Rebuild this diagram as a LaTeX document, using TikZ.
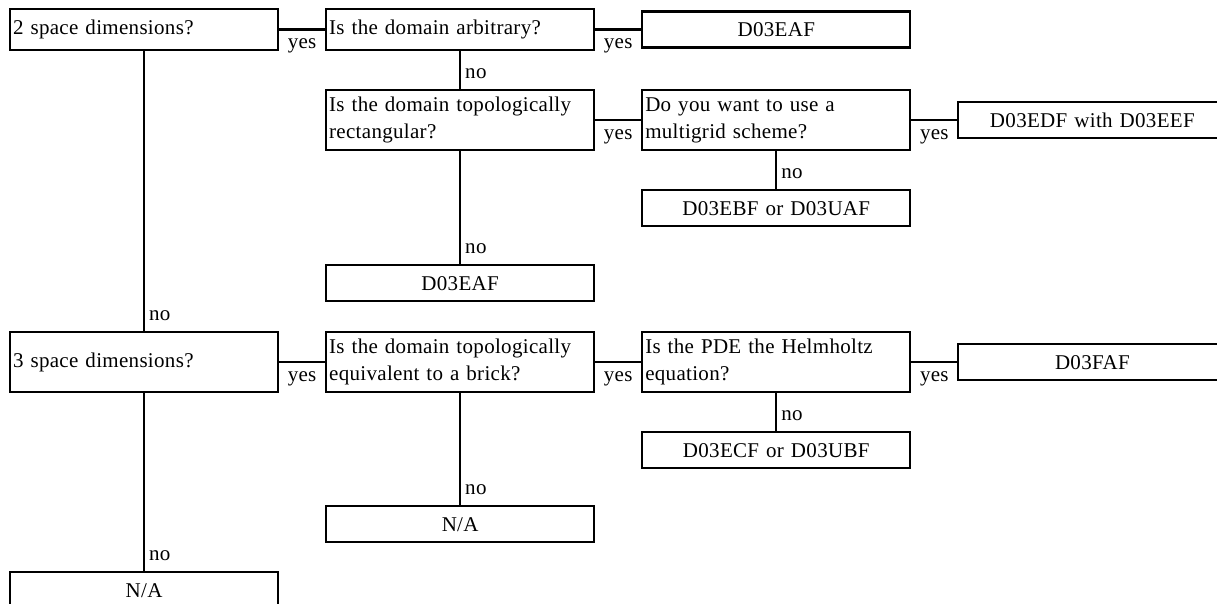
\documentclass[tikz,border=0pt]{standalone}
\usepackage{fontspec}
\setmainfont{Liberation Serif}[LetterSpace=1.5,WordSpace=1.8]
\usetikzlibrary{positioning}

\begin{document}
\begin{tikzpicture}[
    x=1pt, y=-1pt, line width=2.1pt, node distance=46pt,
    every node/.style={font=\fontsize{21}{27}\selectfont},
    qbox/.style={
      draw, shape=rectangle, align=left, text width=262pt,
      inner xsep=3pt, inner ysep=2pt, minimum height=41pt},
    tall/.style={minimum height=60pt},
    rbox/.style={
      draw, shape=rectangle, align=center, text width=262pt,
      inner xsep=3pt, inner ysep=2pt, minimum height=36pt},
    yeslabel/.style={midway, anchor=base, yshift=-19pt, inner sep=0pt},
    nolabel/.style={at end, anchor=base west, xshift=4pt, yshift=11pt, inner sep=0pt}]
  \useasboundingbox (0,0) rectangle (1217,604);

  % first row: two dimensions
  \node[qbox, anchor=north west] (q1) at (9,8) {2 space dimensions?};
  \node[qbox, right=of q1] (q2) {Is the domain arbitrary?};
  \node[rbox, right=of q2] (r1) {D03EAF};
  \node[qbox, tall, below=38pt of q2] (q3) {Is the domain topologically\\rectangular?};
  \node[qbox, tall, right=of q3] (q4) {Do you want to use a\\multigrid scheme?};
  \node[rbox, right=of q4] (r2) {D03EDF with D03EEF};
  \node[rbox, below=38pt of q4] (r3) {D03EBF or D03UAF};
  \node[rbox, below=113pt of q3] (r4) {D03EAF};

  % second row: three dimensions
  \node[qbox, tall, below=280pt of q1] (q5) {3 space dimensions?};
  \node[qbox, tall, right=of q5] (q6) {Is the domain topologically\\equivalent to a brick?};
  \node[qbox, tall, right=of q6] (q7) {Is the PDE the Helmholtz\\equation?};
  \node[rbox, right=of q7] (r5) {D03FAF};
  \node[rbox, below=38pt of q7] (r6) {D03ECF or D03UBF};
  \node[rbox, below=112pt of q6] (r7) {N/A};
  \node[rbox, below=178pt of q5] (r8) {N/A};

  \foreach \a/\b in {q1/q2, q2/r1, q3/q4, q4/r2, q5/q6, q6/q7, q7/r5}
  \draw (\a.east) -- node[yeslabel] {yes} (\b.west);
  \foreach \a/\b in {q2/q3, q4/r3, q3/r4, q1/q5, q7/r6, q6/r7, q5/r8}
  \draw (\a.south) -- node[nolabel] {no} (\b.north);
\end{tikzpicture}
\end{document}
